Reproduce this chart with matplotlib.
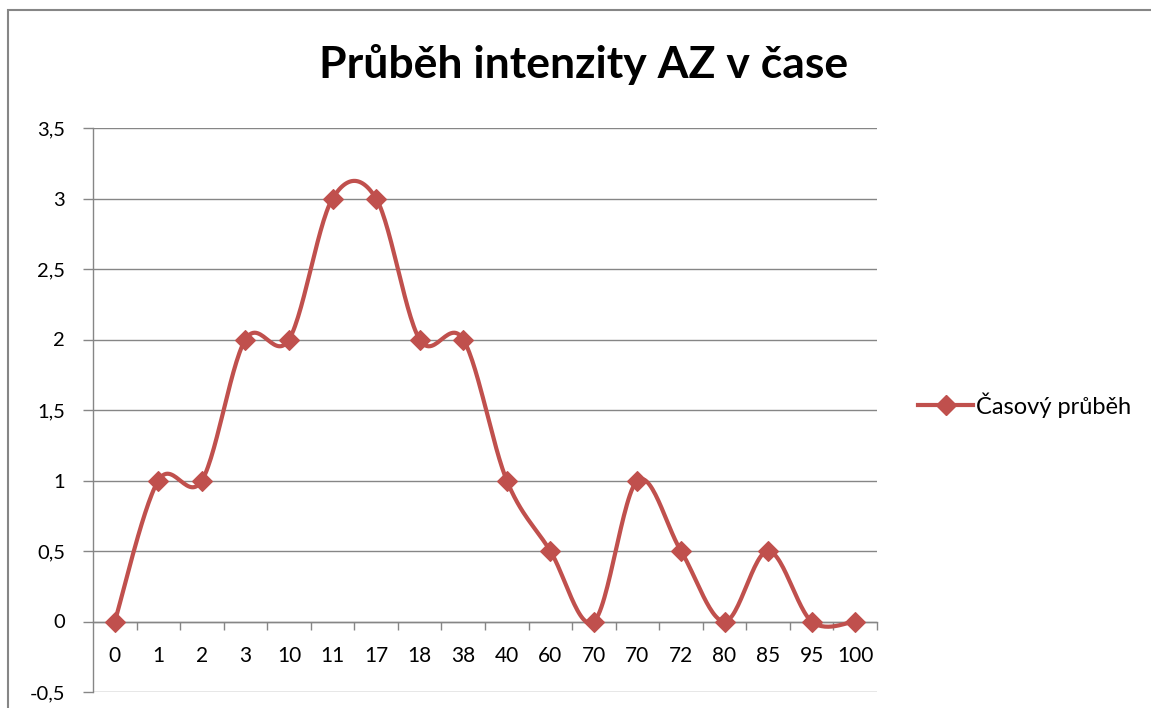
import numpy as np
import matplotlib
matplotlib.use("Agg")
import matplotlib.pyplot as plt
from matplotlib.patches import Rectangle
from matplotlib.lines import Line2D

# ---- data ----
categories = ["0", "1", "2", "3", "10", "11", "17", "18", "38", "40",
              "60", "70", "70", "72", "80", "85", "95", "100"]
values = [0, 1, 1, 2, 2, 3, 3, 2, 2, 1, 0.5, 0, 1, 0.5, 0, 0.5, 0, 0]
y_ticks = [-0.5, 0, 0.5, 1, 1.5, 2, 2.5, 3, 3.5]
y_labels = ["-0,5", "0", "0,5", "1", "1,5", "2", "2,5", "3", "3,5"]
title = "Průběh intenzity AZ v čase"
series_name = "Časový průběh"

RED = "#C0504D"
GRAY = "#868686"
FONT = ["Lato", "DejaVu Sans"]
plt.rcParams["font.family"] = FONT

W, H = 1151, 708
fig = plt.figure(figsize=(W / 100, H / 100), dpi=100)

# chart border
fig.patches.append(Rectangle((8 / W, -0.1), 1.2, 1 - 10 / H + 0.1,
                             transform=fig.transFigure, fill=False,
                             edgecolor=GRAY, linewidth=1.5))

ax = fig.add_axes([93 / W, 1 - 692 / H, (877 - 93) / W, (692 - 128) / H])
ax.set_facecolor("none")

# smooth curve (Bezier smoothing like spreadsheet charts) in category index space
x = np.arange(len(values), dtype=float)
y = np.asarray(values, dtype=float)
pts = np.column_stack([x, y])
curve = []
n = len(pts)
for i in range(n - 1):
    p0 = pts[max(i - 1, 0)]
    p1 = pts[i]
    p2 = pts[i + 1]
    p3 = pts[min(i + 2, n - 1)]
    c1 = p1 + (p2 - p0) / 6.0
    c2 = p2 - (p3 - p1) / 6.0
    t = np.linspace(0, 1, 30)[:, None]
    seg = ((1 - t) ** 3) * p1 + 3 * ((1 - t) ** 2) * t * c1 + 3 * (1 - t) * t ** 2 * c2 + t ** 3 * p2
    curve.append(seg if i == 0 else seg[1:])
curve = np.vstack(curve)

ax.plot(curve[:, 0], curve[:, 1], color=RED, linewidth=3, solid_capstyle="round", zorder=3)
ax.plot(x, y, linestyle="none", marker="D", markersize=10, color=RED,
        markeredgecolor=RED, markeredgewidth=0.8, zorder=4)

ax.set_xlim(-0.5, len(values) - 0.5)
ax.set_ylim(-0.5, 3.5)

ax.set_yticks(y_ticks)
ax.set_yticklabels(y_labels)
ax.yaxis.grid(True, color=GRAY, linewidth=1)
ax.set_axisbelow(True)

for s in ["top", "right"]:
    ax.spines[s].set_visible(False)
ax.spines["left"].set_color(GRAY)
ax.spines["bottom"].set_position(("data", 0))
ax.spines["bottom"].set_color(GRAY)
ax.spines["bottom"].set_linewidth(1)
ax.spines["left"].set_linewidth(1)

ax.set_xticks(x)
ax.set_xticklabels(categories)
ax.set_xticks(np.arange(0.5, len(values), 1.0), minor=True)
ax.tick_params(axis="x", which="major", length=0, pad=18, labelsize=15, labelcolor="black")
ax.tick_params(axis="x", which="minor", length=6, direction="out", color=GRAY, width=1)
ax.tick_params(axis="y", length=7.2, direction="out", color=GRAY, width=1, pad=13,
               labelsize=14.5, labelcolor="black")

fig.text(584 / W, 1 - 78 / H, title, ha="center", va="baseline",
         fontsize=32, fontweight="bold", family=FONT)

handle = Line2D([], [], color=RED, linewidth=3, marker="D", markersize=10)
fig.legend([handle], [series_name], loc="center left",
           bbox_to_anchor=(906 / W, 1 - 405 / H), frameon=False,
           handlelength=2.35, handletextpad=0.12, fontsize=17, borderpad=0)

fig.savefig("out.png", dpi=100)
